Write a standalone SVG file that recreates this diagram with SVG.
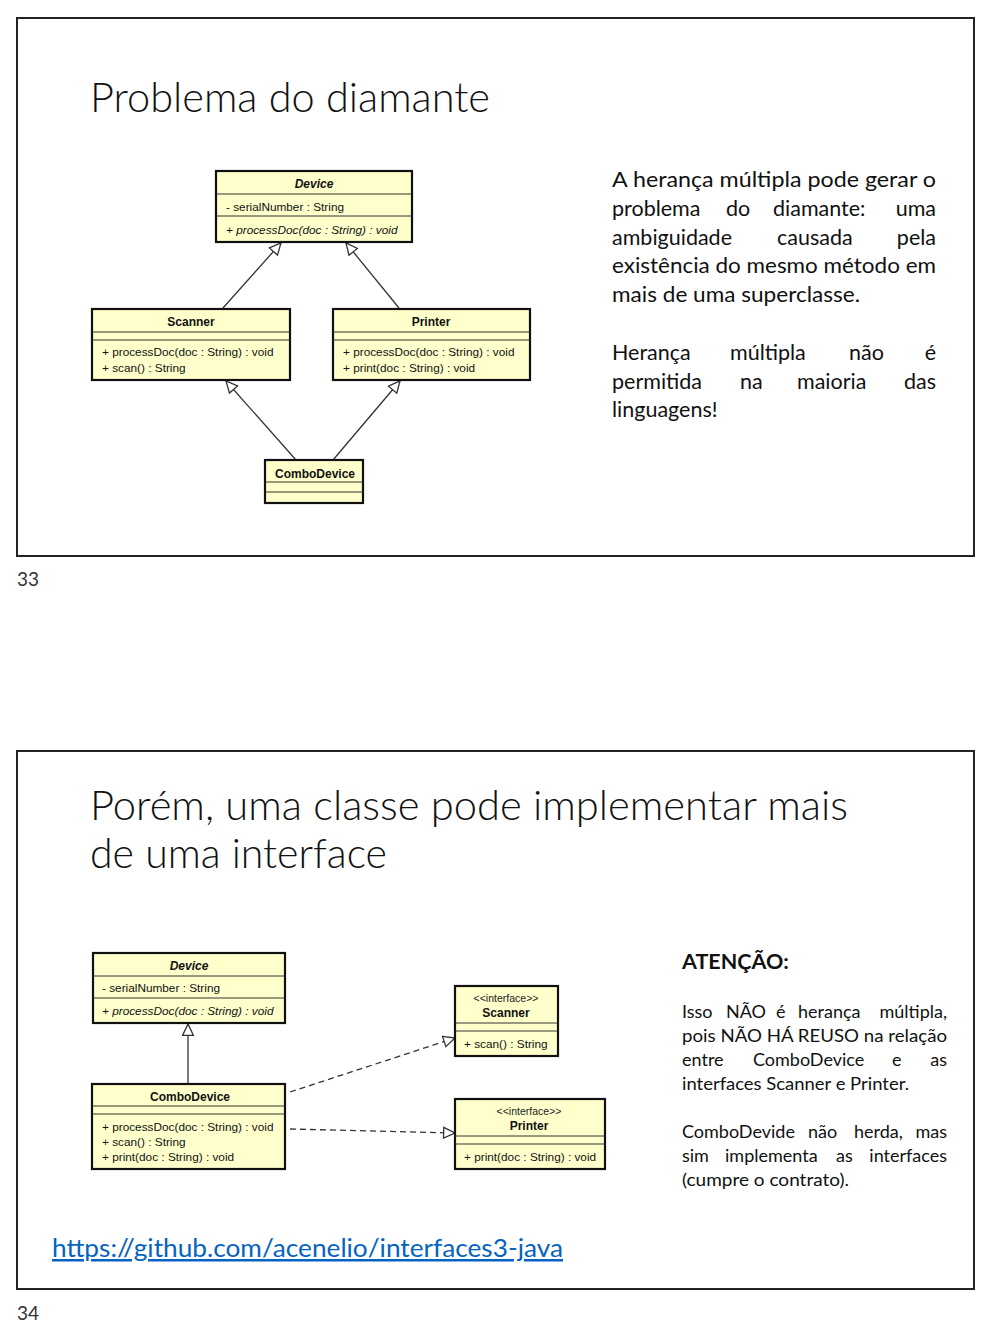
<svg xmlns="http://www.w3.org/2000/svg" width="991" height="1324" viewBox="0 0 991 1324">
<style>
.frame{fill:#fff;stroke:#222;stroke-width:2}
.box{fill:#FFFFCC;stroke:#111;stroke-width:2.2}
.sep{stroke:#333;stroke-width:1}
.u{font-family:"Liberation Sans",Arial,sans-serif;font-size:11.8px;fill:#111}
.ub{font-family:"Liberation Sans",Arial,sans-serif;font-size:12px;font-weight:bold;fill:#111}
.us{font-family:"Liberation Sans",Arial,sans-serif;font-size:10.5px;fill:#222}
.it{font-style:italic}
.title{font-family:Lato,"Open Sans",sans-serif;font-weight:300;font-size:41px;fill:#111}
.body{font-family:Lato,"Open Sans",sans-serif;font-size:21.5px;fill:#111}
.body2{font-family:Lato,"Open Sans",sans-serif;font-size:18px;fill:#111}
.num{font-family:Lato,"Open Sans",sans-serif;font-size:19px;fill:#333}
.conn{stroke:#333;stroke-width:1.3;fill:none}
.dash{stroke-dasharray:6,4}
</style>
<defs>
<marker id="tri" viewBox="0 0 12 12" markerUnits="userSpaceOnUse" markerWidth="13" markerHeight="13" refX="11.5" refY="6" orient="auto">
<path d="M1,1 L11.5,6 L1,11 Z" fill="#fff" stroke="#333" stroke-width="1.2"/>
</marker>
</defs>
<rect width="991" height="1324" fill="#fff"/>

<!-- Slide 33 -->
<g id="slide33">
<rect class="frame" x="17" y="18" width="957" height="538"/>
<text class="title" x="90" y="112" textLength="400" lengthAdjust="spacingAndGlyphs">Problema do diamante</text>
<g class="body">
<text x="612" y="187" textLength="324" lengthAdjust="spacingAndGlyphs">A herança múltipla pode gerar o</text>
<text y="216"><tspan x="612">problema</tspan><tspan x="726">do</tspan><tspan x="773">diamante:</tspan></text>
<text x="936" y="216" text-anchor="end">uma</text>
<text y="245"><tspan x="612">ambiguidade</tspan><tspan x="777">causada</tspan></text>
<text x="936" y="245" text-anchor="end">pela</text>
<text x="612" y="273" textLength="324" lengthAdjust="spacingAndGlyphs">existência do mesmo método em</text>
<text x="612" y="302" textLength="248" lengthAdjust="spacingAndGlyphs">mais de uma superclasse.</text>
<text y="360"><tspan x="612">Herança</tspan><tspan x="730">múltipla</tspan><tspan x="849">não</tspan></text>
<text x="936" y="360" text-anchor="end">é</text>
<text y="389"><tspan x="612">permitida</tspan><tspan x="740">na</tspan><tspan x="797">maioria</tspan></text>
<text x="936" y="389" text-anchor="end">das</text>
<text x="612" y="417">linguagens!</text>
</g>
</g>
<text class="num" x="17" y="586">33</text>

<g id="connectors33">
<line class="conn" x1="223" y1="308" x2="281" y2="243" marker-end="url(#tri)"/>
<line class="conn" x1="399" y1="308" x2="346" y2="243" marker-end="url(#tri)"/>
<line class="conn" x1="296" y1="460" x2="226" y2="381" marker-end="url(#tri)"/>
<line class="conn" x1="333" y1="460" x2="400" y2="381" marker-end="url(#tri)"/>
</g>

<g id="device1">
<rect class="box" x="216" y="171" width="196" height="71"/>
<line class="sep" x1="216" y1="194" x2="412" y2="194"/>
<line class="sep" x1="216" y1="216" x2="412" y2="216"/>
<text class="ub it" x="314" y="188" text-anchor="middle">Device</text>
<text class="u" x="226" y="211">- serialNumber : String</text>
<text class="u it" x="226" y="234">+ processDoc(doc : String) : void</text>
</g>
<g id="scanner1">
<rect class="box" x="92" y="309" width="198" height="71"/>
<line class="sep" x1="92" y1="332" x2="290" y2="332"/>
<line class="sep" x1="92" y1="340" x2="290" y2="340"/>
<text class="ub" x="191" y="326" text-anchor="middle">Scanner</text>
<text class="u" x="102" y="356">+ processDoc(doc : String) : void</text>
<text class="u" x="102" y="372">+ scan() : String</text>
</g>
<g id="printer1">
<rect class="box" x="333" y="309" width="197" height="71"/>
<line class="sep" x1="333" y1="332" x2="530" y2="332"/>
<line class="sep" x1="333" y1="340" x2="530" y2="340"/>
<text class="ub" x="431" y="326" text-anchor="middle">Printer</text>
<text class="u" x="343" y="356">+ processDoc(doc : String) : void</text>
<text class="u" x="343" y="372">+ print(doc : String) : void</text>
</g>
<g id="combo1">
<rect class="box" x="265" y="460" width="98" height="43"/>
<line class="sep" x1="265" y1="482" x2="363" y2="482"/>
<line class="sep" x1="265" y1="492" x2="363" y2="492"/>
<text class="ub" x="315" y="478" text-anchor="middle">ComboDevice</text>
</g>

<!-- Slide 34 -->
<g id="slide34">
<rect class="frame" x="17" y="751" width="957" height="538"/>
<text class="title" x="90" y="820" textLength="758" lengthAdjust="spacingAndGlyphs">Porém, uma classe pode implementar mais</text>
<text class="title" x="90" y="868" textLength="297" lengthAdjust="spacingAndGlyphs">de uma interface</text>
<text x="682" y="969" font-family="Lato,'Open Sans',sans-serif" font-size="21.5" font-weight="bold" fill="#111">ATENÇÃO:</text>
<g class="body2">
<text y="1018"><tspan x="682">Isso</tspan><tspan x="726">NÃO</tspan><tspan x="776">é</tspan><tspan x="798">herança</tspan></text>
<text x="947" y="1018" text-anchor="end">múltipla,</text>
<text x="682" y="1042" textLength="265" lengthAdjust="spacingAndGlyphs">pois NÃO HÁ REUSO na relação</text>
<text y="1066"><tspan x="682">entre</tspan><tspan x="753">ComboDevice</tspan><tspan x="892">e</tspan></text>
<text x="947" y="1066" text-anchor="end">as</text>
<text x="682" y="1090" textLength="227" lengthAdjust="spacingAndGlyphs">interfaces Scanner e Printer.</text>
<text y="1138"><tspan x="682">ComboDevide</tspan><tspan x="808">não</tspan><tspan x="854">herda,</tspan></text>
<text x="947" y="1138" text-anchor="end">mas</text>
<text y="1162"><tspan x="682">sim</tspan><tspan x="725">implementa</tspan><tspan x="836">as</tspan></text>
<text x="947" y="1162" text-anchor="end">interfaces</text>
<text x="682" y="1186" textLength="167" lengthAdjust="spacingAndGlyphs">(cumpre o contrato).</text>
</g>
<text x="52" y="1257" font-family="Lato,'Open Sans',sans-serif" font-size="25" fill="#0563C1" text-decoration="underline" textLength="511" lengthAdjust="spacingAndGlyphs">https://github.com/acenelio/interfaces3-java</text>
</g>
<text class="num" x="17" y="1320">34</text>

<g id="connectors34">
<line class="conn" x1="188" y1="1084" x2="188" y2="1024" marker-end="url(#tri)"/>
<line class="conn dash" x1="290" y1="1092" x2="455" y2="1038" marker-end="url(#tri)"/>
<line class="conn dash" x1="290" y1="1129" x2="455" y2="1133" marker-end="url(#tri)"/>
</g>

<g id="device2">
<rect class="box" x="93" y="953" width="192" height="70"/>
<line class="sep" x1="93" y1="976" x2="285" y2="976"/>
<line class="sep" x1="93" y1="998" x2="285" y2="998"/>
<text class="ub it" x="189" y="970" text-anchor="middle">Device</text>
<text class="u" x="102" y="992">- serialNumber : String</text>
<text class="u it" x="102" y="1015">+ processDoc(doc : String) : void</text>
</g>
<g id="combo2">
<rect class="box" x="92" y="1084" width="193" height="85"/>
<line class="sep" x1="92" y1="1106" x2="285" y2="1106"/>
<line class="sep" x1="92" y1="1114" x2="285" y2="1114"/>
<text class="ub" x="190" y="1101" text-anchor="middle">ComboDevice</text>
<text class="u" x="102" y="1131">+ processDoc(doc : String) : void</text>
<text class="u" x="102" y="1146">+ scan() : String</text>
<text class="u" x="102" y="1161">+ print(doc : String) : void</text>
</g>
<g id="iscanner">
<rect class="box" x="455" y="986" width="103" height="70"/>
<line class="sep" x1="455" y1="1023" x2="558" y2="1023"/>
<line class="sep" x1="455" y1="1031" x2="558" y2="1031"/>
<text class="us" x="506" y="1002" text-anchor="middle">&lt;&lt;interface&gt;&gt;</text>
<text class="ub" x="506" y="1017" text-anchor="middle">Scanner</text>
<text class="u" x="464" y="1048">+ scan() : String</text>
</g>
<g id="iprinter">
<rect class="box" x="455" y="1099" width="150" height="70"/>
<line class="sep" x1="455" y1="1136" x2="605" y2="1136"/>
<line class="sep" x1="455" y1="1144" x2="605" y2="1144"/>
<text class="us" x="529" y="1115" text-anchor="middle">&lt;&lt;interface&gt;&gt;</text>
<text class="ub" x="529" y="1130" text-anchor="middle">Printer</text>
<text class="u" x="464" y="1161">+ print(doc : String) : void</text>
</g>
</svg>
